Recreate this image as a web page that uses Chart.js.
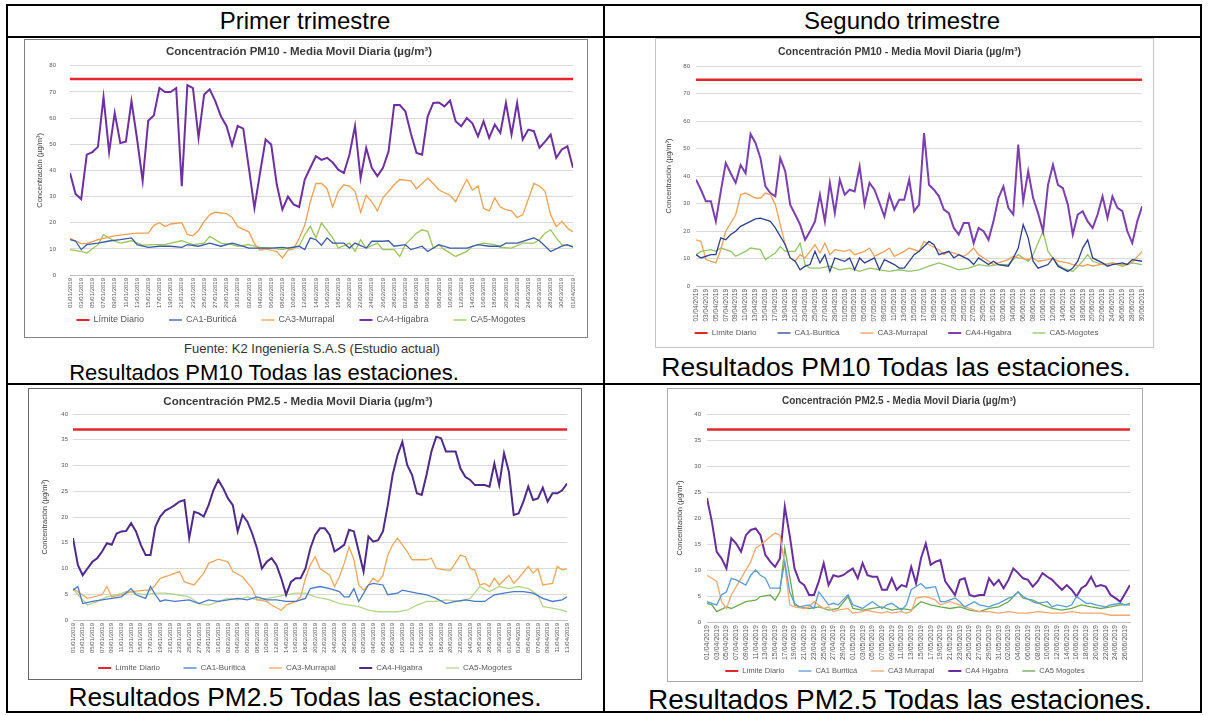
<!DOCTYPE html>
<html lang="es">
<head>
<meta charset="UTF-8">
<title>Resultados PM10 y PM2.5 - Todas las estaciones</title>
<script src="https://cdn.jsdelivr.net/npm/chart.js"></script>
<style>
  body { margin: 0; background: #fff; font-family: "Liberation Sans", Arial, sans-serif; }
  #page { position: relative; width: 1208px; height: 715px; overflow: hidden; }
  .rule { position: absolute; background: #000; }
  .frame { position: absolute; border: 2px solid #000; box-sizing: border-box; }
  .txt { position: absolute; white-space: nowrap; color: #000; transform: translate(-50%, -50%); line-height: 1; }
  .box { position: absolute; background: #fff; border: 1px solid #999; box-sizing: border-box; }
  .box canvas { position: absolute; left: 0; top: 0; }
</style>
</head>
<body>
<div id="page">
  <div class="frame" style="left:6px;top:4px;width:1196px;height:709px"></div>
  <div class="rule" style="left:603px;top:4px;width:2px;height:709px"></div>
  <div class="rule" style="left:6px;top:36px;width:1196px;height:2px"></div>
  <div class="rule" style="left:6px;top:383px;width:1196px;height:2px"></div>

  <div class="txt" style="left:305px;top:21px;font-size:24px">Primer trimestre</div>
  <div class="txt" style="left:902px;top:21px;font-size:24px">Segundo trimestre</div>

  <div class="box" id="c1" style="left:24px;top:39px;width:564px;height:299px;border-color:#808080"><canvas></canvas></div>
  <div class="box" id="c2" style="left:655px;top:38px;width:499px;height:310px;border-color:#c4c4c4"><canvas></canvas></div>
  <div class="box" id="c3" style="left:28px;top:388px;width:554px;height:292px;border-color:#666"><canvas></canvas></div>
  <div class="box" id="c4" style="left:667px;top:388px;width:476px;height:294px;border-color:#aaa"><canvas></canvas></div>

  <div class="txt" style="left:312px;top:348px;font-size:13px;color:#333">Fuente: K2 Ingeniería S.A.S (Estudio actual)</div>
  <div class="txt" style="left:264px;top:373px;font-size:22px">Resultados PM10 Todas las estaciones.</div>
  <div class="txt" style="left:896px;top:367px;font-size:26.5px">Resultados PM10 Todas las estaciones.</div>
  <div class="txt" style="left:305px;top:697px;font-size:26.3px">Resultados PM2.5 Todas las estaciones.</div>
  <div class="txt" style="left:900px;top:700px;font-size:28px">Resultados PM2.5 Todas las estaciones.</div>
</div>

<script>
// etiquetas del eje x (una cada dos dias)
const q1Dates = ['01/01/2019','03/01/2019','05/01/2019','07/01/2019','09/01/2019','11/01/2019','13/01/2019','15/01/2019','17/01/2019','19/01/2019','21/01/2019','23/01/2019','25/01/2019','27/01/2019','29/01/2019','31/01/2019',
  '02/02/2019','04/02/2019','06/02/2019','08/02/2019','10/02/2019','12/02/2019','14/02/2019','16/02/2019','18/02/2019','20/02/2019','22/02/2019','24/02/2019','26/02/2019','28/02/2019',
  '02/03/2019','04/03/2019','06/03/2019','08/03/2019','10/03/2019','12/03/2019','14/03/2019','16/03/2019','18/03/2019','20/03/2019','22/03/2019','24/03/2019','26/03/2019','28/03/2019','30/03/2019',
  '01/04/2019','03/04/2019','05/04/2019','07/04/2019','09/04/2019','11/04/2019','13/04/2019'];
const q2Dates = ['01/04/2019','03/04/2019','05/04/2019','07/04/2019','09/04/2019','11/04/2019','13/04/2019','15/04/2019','17/04/2019','19/04/2019','21/04/2019','23/04/2019','25/04/2019','27/04/2019','29/04/2019',
  '01/05/2019','03/05/2019','05/05/2019','07/05/2019','09/05/2019','11/05/2019','13/05/2019','15/05/2019','17/05/2019','19/05/2019','21/05/2019','23/05/2019','25/05/2019','27/05/2019','29/05/2019','31/05/2019',
  '02/06/2019','04/06/2019','06/06/2019','08/06/2019','10/06/2019','12/06/2019','14/06/2019','16/06/2019','18/06/2019','20/06/2019','22/06/2019','24/06/2019','26/06/2019','28/06/2019','30/06/2019'];

const stationsDash = ['Límite Diario', 'CA1-Buriticá', 'CA3-Murrapal', 'CA4-Higabra', 'CA5-Mogotes'];
const stationsSpace = ['Límite Diario', 'CA1 Buriticá', 'CA3 Murrapal', 'CA4 Higabra', 'CA5 Mogotes'];

const limitPm10 = 75;
const limitPm25 = 37;

// PM10 - primer trimestre (Higabra: un valor por dia; resto: [dia, valor])
const pm10Q1Higabra = [39,31,29,46,47,49,68,47,62,50.5,51,66.5,52,36,59,61,71.5,70,70,71.5,
  34,72.6,71.5,52.5,69,71,66.5,60.7,57,49.6,57,56,41,25.6,39,51.8,49.9,34.6,25,30,
  27,26,36.5,41,45.4,44,44.8,43,40.3,39,46,57,37,48.6,41,37.8,41,47.3,65,65,
  62.6,54,46.7,46,60.7,65.8,66,64.5,66.7,58.8,56.9,60,58,53,58.8,52.4,57.5,54.3,65.8,53.7,
  65.8,51.8,55.6,55,48.6,51,53.7,44.8,48,49.2,41];
const pm10Q1Buritica = [[0,13.5],[1,13],[2,9.7],[3,11.6],[5,12.2],[7,13],[9,13.5],[11,14.2],[12,11.6],[14,10.6],[16,11],[18,11],[20,10.6],[21,11.6],[23,11],[25,12.2],[27,11],[29,12.2],[30,11.6],[32,10.3],[34,10.3],[36,10.3],[38,10.6],[39,10.3],[41,11],[42,9.7],[43,14.2],[44,13.5],[45,11.4],[46,14.2],[47,12.2],[49,12.2],[50,10.3],[51,12.2],[53,10.3],[54,12.9],[56,12.9],[57,13.1],[58,11],[60,11.6],[61,9.7],[63,11],[64,9],[66,11.6],[68,10.3],[69,10.3],[71,10.3],[73,11.6],[75,11],[77,11],[78,12.2],[80,12.2],[82,13.5],[83,14.2],[84,13.1],[86,9],[88,11],[89,11.6],[90,10.6]];
const pm10Q1Murrapal = [[0,14],[2,12],[3,12],[5,13.5],[8,15],[10,15.5],[12,16],[14,16],[15,19],[16,20],[17,18.5],[18,19.5],[20,20],[21,15.5],[22,15],[23,17],[24,20.5],[25,23],[26,24],[28,23.5],[29,22],[30,18.5],[32,16.5],[33,12],[34,9.5],[35,10],[37,9],[38,6.5],[39,9.5],[40,10],[41,14],[42,19],[43,28],[44,35],[45,35],[46,33],[47,26],[48,32],[49,34.5],[50,34],[51,32],[52,24],[53,30.5],[54,28],[55,24.5],[56,29.5],[58,34.5],[59,36.5],[61,36],[62,33],[64,37],[65,35],[66,32.5],[68,30.5],[69,28],[70,32.5],[71,36.5],[72,32.5],[73,34],[74,25.5],[75,24.5],[76,29.5],[77,26],[78,25],[79,24.5],[80,22],[81,23],[83,35],[84,34],[85,32],[86,23],[87,18.5],[88,20.5],[89,18],[90,16.5]];
const pm10Q1Mogotes = [[0,9.7],[2,9],[3,8.4],[5,11.6],[6,15.4],[8,12.9],[9,12.2],[11,13.1],[13,11.4],[15,11.6],[17,11.6],[18,12.2],[20,13.1],[22,11.6],[24,12.2],[25,14.8],[27,12.2],[29,11.6],[30,11],[32,11.6],[34,10.6],[36,10.3],[38,9.7],[39,10.3],[41,11],[42,15.4],[43,18.6],[44,14.2],[45,19.9],[47,14.2],[48,10.3],[50,12.2],[51,9],[52,13.5],[53,10.3],[55,12.2],[56,9.7],[58,9.7],[59,7.1],[60,11.6],[62,16],[63,17.3],[64,16.7],[65,10.3],[66,11.6],[67,9.7],[69,7.1],[71,9],[72,11],[74,12.2],[76,11.6],[77,10.6],[79,10.3],[81,12.2],[83,12.2],[84,13.5],[85,16],[86,17.3],[87,14.2],[88,11.6],[90,11]];

// PM10 - segundo trimestre
const pm10Q2Higabra = [38.7,35,30.8,30.8,23.5,34.4,44.7,41,37.5,44,
  41,55.3,52,46.5,36.2,33.8,32.6,46.5,41.7,29.6,
  26,22.3,16.8,19.9,23.5,33.2,23.5,37.5,26.5,38.7,
  33.2,35,34.4,43.5,29.6,37.5,35,30.2,25.3,33.2,
  27.8,31.4,31.4,38.7,27.2,29.6,55.6,36.8,35,32.6,
  27.8,26.5,21.1,18.7,22.9,22.9,15.6,21.1,19.9,16.8,
  23.5,32,36.2,28.4,26,51.4,30.8,41.7,32,26.5,
  19.9,36.8,44.1,36.8,35.6,29.6,18.7,26,27.2,23.5,
  21.1,26,32.6,24.7,32.6,28.4,27.2,19.9,15.6,23.5,29];
const pm10Q2Buritica = [[0,11.4],[1,10.2],[3,11.4],[4,11.4],[5,17.5],[6,16.8],[7,18.7],[8,19.9],[9,21.7],[11,23.5],[12,24.4],[13,24.7],[15,23.5],[16,21.1],[18,15],[19,10.2],[20,9],[21,5.9],[22,7.2],[23,7.8],[24,12.6],[25,8.4],[26,11.4],[27,5.3],[28,10.2],[30,9],[31,10.2],[32,5.9],[33,10.2],[34,8.4],[36,10.2],[37,5.9],[38,9.6],[40,7.8],[41,6.5],[42,6.5],[44,11.4],[45,12.6],[47,16.2],[48,15],[49,11.4],[51,12.6],[52,10.2],[53,11.4],[55,9.6],[56,7.8],[57,10.2],[59,7.8],[60,9],[61,7.8],[63,7.2],[64,10.2],[65,13.8],[66,22.3],[67,17.5],[68,9],[69,6.5],[71,7.8],[72,10.2],[73,7.2],[75,5.3],[76,6.5],[77,9],[78,13.8],[79,16.8],[80,10.2],[82,8.4],[83,7.2],[84,7.8],[86,8.4],[87,7.8],[88,9.6],[90,9]];
const pm10Q2Murrapal = [[0,16.8],[1,16.2],[2,9.6],[4,8.4],[5,13.2],[6,19.9],[8,25.9],[9,33.2],[10,33.8],[12,32],[13,32],[14,33.8],[15,33.2],[16,29.6],[17,22.3],[18,15],[19,10.2],[20,9],[21,11.4],[22,10.2],[23,12.6],[24,15],[25,12],[26,15.6],[27,11.4],[28,13.2],[30,12.6],[31,13.2],[32,11.4],[34,12.6],[35,13.8],[36,10.8],[38,12.6],[39,13.8],[40,10.8],[42,12.6],[43,13.8],[45,12.6],[46,16.2],[47,15],[49,13.2],[50,11.4],[51,12.6],[53,11.4],[54,10.8],[55,12],[56,13.8],[57,11.4],[59,9],[60,7.8],[61,8.4],[63,9.6],[64,10.8],[65,10.2],[67,9.6],[68,10.2],[69,9],[71,9.6],[72,10.2],[73,9],[75,8.4],[76,7.8],[78,7.2],[79,7.8],[80,7.2],[82,8],[83,7.8],[84,8.4],[86,7.8],[87,8],[88,8.7],[90,12.6]];
const pm10Q2Mogotes = [[0,11.4],[1,12.6],[3,13.2],[4,12.6],[5,13.8],[7,12.6],[8,10.8],[10,12.6],[11,13.8],[13,13.2],[14,9.6],[16,12],[17,14.4],[18,12.6],[20,12.6],[21,15.6],[22,7.8],[23,6.5],[25,6.5],[27,7.2],[29,5.9],[31,6.5],[33,5.3],[35,6.5],[37,5.9],[39,5.3],[41,5.9],[43,5.3],[45,5.9],[47,7.2],[49,8.4],[51,7.2],[53,5.9],[55,6.5],[57,7.8],[59,7.2],[61,7.8],[63,7.8],[65,11.4],[67,9],[68,11.4],[70,19.9],[71,12.6],[73,7.8],[74,6.5],[76,5.3],[78,9],[79,11.4],[80,9],[82,7.8],[84,8.4],[86,7.2],[88,8.4],[90,7.8]];

// PM2.5 - primer trimestre
const pm25Q1Higabra = [15.9,10.7,8.7,10,11.3,12,13.3,14.9,14.6,16.8,
  17.2,17.3,18.8,17.2,14.6,12.6,12.6,18.1,20.1,21.2,
  21.7,22.3,23,23.3,15.9,21,20.7,20.1,22.3,25.2,
  27.2,25.6,23.6,22.3,17.2,20.4,19.1,16.8,13.9,10,
  11.3,12,10.7,8.1,4.9,7.4,8.1,8.1,10,13.9,
  16.5,17.8,17.8,16.5,13.3,13.9,14.6,17.5,17.2,13.3,
  9.4,16.2,15.2,15.5,17.2,22.3,28.2,32,34.6,30.1,
  28.2,24.6,24.3,28.2,32.7,35.6,35.3,32.7,32.7,32.7,
  29.4,27.8,27.2,26.2,26.2,26.2,25.9,30.4,26.2,32.4,
  28.8,20.4,20.7,23,25.9,23.3,23.6,25.7,23,24.6,
  24.6,25.2,26.5];
const pm25Q1Buritica = [[0,5.8],[1,6.5],[2,3.2],[4,3.6],[6,3.9],[8,4.2],[10,4.5],[12,6.1],[13,4.9],[15,4.2],[16,6.5],[17,4.9],[18,3.6],[19,3.9],[21,3.6],[24,3.9],[26,3.2],[28,3.9],[30,3.6],[32,3.9],[34,4.2],[36,3.9],[38,4.5],[40,3.9],[42,3.9],[44,3.6],[46,3.6],[48,4.2],[49,6.1],[51,6.5],[53,6.1],[55,5.5],[56,4.5],[57,4.5],[58,6.1],[59,3.6],[61,6.8],[62,7.1],[64,6.8],[65,4.9],[67,5.2],[68,5.8],[71,5.2],[73,4.9],[75,4.2],[77,3.2],[79,3.6],[81,3.9],[83,3.6],[85,3.6],[87,4.9],[89,5.2],[91,5.5],[93,5.5],[95,5.2],[97,4.2],[99,3.6],[101,3.9],[102,4.5]];
const pm25Q1Murrapal = [[0,6.1],[1,5.5],[3,4.2],[6,4.9],[7,6.5],[8,4.5],[10,4.9],[12,5.5],[15,5.8],[16,5.8],[17,6.8],[18,8.1],[20,8.7],[22,9.4],[23,7.4],[25,6.8],[27,9.1],[28,11],[30,11.8],[32,11.3],[33,9.4],[35,8.4],[37,6.1],[38,3.9],[40,3.6],[41,2.9],[43,1.9],[44,2.9],[46,3.6],[47,4.5],[48,8.1],[49,10.7],[50,12.3],[51,10],[53,8.7],[54,6.5],[55,8.4],[56,11],[57,14.2],[58,11.7],[59,6.8],[60,5.8],[61,6.8],[62,8.1],[63,7.4],[64,8.7],[65,12.6],[66,14.6],[67,15.9],[68,14.6],[69,13.3],[70,11.7],[72,11.7],[73,11.7],[74,12],[75,10],[77,9.7],[78,9.7],[80,12.6],[81,12.3],[82,10],[83,9.7],[84,6.8],[85,7.1],[86,6.5],[87,8.1],[88,6.8],[90,8.7],[91,7.1],[92,8.1],[94,10.4],[95,9.1],[96,10],[97,6.8],[99,7.1],[100,10.4],[101,9.7],[102,10]];
const pm25Q1Mogotes = [[0,6.1],[1,4.9],[3,2.9],[5,3.6],[7,4.5],[9,4.9],[11,5.5],[13,5.2],[15,4.9],[17,5.2],[19,5.2],[21,5],[24,4.5],[26,3.2],[28,2.9],[30,3.6],[32,4.2],[34,3.9],[36,4.5],[38,3.9],[40,4.2],[42,4.5],[44,4.9],[46,5.2],[48,5.2],[50,4.5],[53,3.9],[55,3.2],[57,2.9],[59,2.6],[61,1.9],[63,1.6],[65,1.6],[67,1.6],[69,1.9],[71,2.9],[73,3.6],[75,3.6],[77,3.9],[80,3.6],[82,4.2],[84,6.5],[86,5.5],[88,6.5],[90,6.1],[92,6.5],[94,6.1],[96,4.9],[97,2.6],[99,2.3],[101,1.9],[102,1.6]];

// PM2.5 - segundo trimestre
const pm25Q2Higabra = [23.8,19.3,13.5,12.2,10.3,16.1,15.1,13.5,16.7,17.7,
  18,16.7,12.9,11.6,10.6,12.2,22.2,16.7,10.3,7.8,
  7.1,5.2,5.2,7.8,11.3,7.1,9,8.7,9,9.7,
  10.3,8.4,11.3,9,8.7,8.7,6.2,6.2,8.4,6.2,
  7.1,6.8,10.6,7.4,12.2,15.1,11,11.6,11.9,7.8,
  6.5,5.2,8.1,8.4,5.2,4.9,5.2,5.2,8.4,7.1,
  8.1,6.5,8.1,10.3,9.4,8.4,8.1,6.8,7.8,9.4,
  8.7,8.1,7.1,6.2,7.1,6.2,4.9,6.5,7.1,8.7,
  6.8,7.1,6.8,5.2,4.6,3.9,5.5,7.1];
const pm25Q2Buritica = [[0,3.9],[1,3.6],[2,3.3],[3,5.2],[4,5.8],[5,8.4],[6,8.1],[8,7.1],[9,9],[10,10],[11,9],[12,8.4],[13,6.5],[15,6.5],[16,11.6],[17,5.8],[18,3.6],[19,2.9],[21,3.3],[22,2.6],[23,5.8],[25,3.3],[26,3.6],[27,3.3],[29,5.2],[30,3.3],[32,2.6],[33,3.3],[34,3.9],[36,2.6],[37,3.3],[38,3.6],[40,2.3],[41,3.3],[42,6.2],[44,7.4],[45,6.5],[47,6.8],[48,3.9],[49,3.9],[51,4.6],[52,3.9],[53,2.9],[55,3.9],[56,3.3],[58,2.9],[59,3.3],[60,3.6],[62,4.6],[63,4.9],[64,5.8],[65,4.9],[67,3.9],[68,3.6],[70,3.9],[71,2.9],[72,3.3],[74,2.9],[75,3.3],[76,4.9],[78,3.6],[79,3.6],[80,3.3],[82,2.9],[83,3.3],[85,3.6],[86,3.3],[87,3.6]];
const pm25Q2Murrapal = [[0,9],[1,8.4],[2,7.8],[3,3.9],[4,2.6],[5,5.2],[7,8.4],[9,11.6],[10,14.2],[11,14.8],[13,16.4],[14,17.1],[15,16.7],[16,11],[17,3.3],[18,2.9],[20,2.6],[21,2.9],[22,3.9],[24,2.6],[25,2.9],[26,2],[27,2.3],[29,2.6],[30,1.7],[32,2],[33,2.3],[34,2],[36,1.7],[37,2],[38,1.7],[40,2],[41,1.7],[42,2],[43,4.6],[45,4.9],[46,4.6],[47,4.2],[48,3.3],[50,3.9],[51,3.6],[52,3.3],[54,2.6],[55,2.3],[56,2],[58,2],[60,1.7],[62,2],[64,1.7],[66,1.7],[68,2],[71,1.7],[73,1.7],[75,2],[77,1.7],[79,1.7],[81,1.7],[83,1.3],[85,1.3],[87,1.3]];
const pm25Q2Mogotes = [[0,3.6],[1,3.3],[2,2],[4,2.9],[5,2.6],[8,3.9],[10,4.2],[11,4.9],[13,5.2],[14,4.2],[15,5.8],[16,14.2],[18,3.3],[19,2.9],[21,2.6],[23,2.9],[25,2.3],[27,2.6],[29,4.9],[30,2.6],[32,2.3],[34,2.6],[36,2.9],[38,2.3],[40,2.6],[42,2.3],[44,3.9],[46,3.3],[48,2.9],[50,2.6],[52,2.9],[54,2.3],[56,2],[58,2.6],[60,2.9],[62,3.9],[64,5.8],[65,4.6],[67,4.2],[69,3.3],[71,2.6],[73,2.3],[75,2.6],[77,3.3],[79,2.9],[81,2.6],[83,2.9],[85,3.3],[87,3.3]];

Chart.defaults.font.family = '"Liberation Sans", Arial, sans-serif';

const byDay = arr => arr.map((v, i) => ({ x: i, y: v }));
const byPair = arr => arr.map(([x, y]) => ({ x, y }));

// leyenda estilo Excel (linea corta + texto, espaciado amplio) pegada al borde inferior
const excelLegend = {
  id: 'excelLegend',
  afterDraw(chart, args, opts) {
    const { ctx } = chart;
    const sets = chart.data.datasets;
    ctx.save();
    ctx.font = opts.size + 'px "Liberation Sans", Arial, sans-serif';
    ctx.textBaseline = 'middle';
    const widths = sets.map(d => opts.line + 4 + ctx.measureText(d.label).width);
    const total = widths.reduce((a, b) => a + b, 0) + opts.gap * (sets.length - 1);
    let x = (chart.width - total) / 2 + opts.shift;
    sets.forEach((d, i) => {
      ctx.strokeStyle = d.borderColor;
      ctx.lineWidth = Math.min(d.borderWidth, 2);
      ctx.beginPath();
      ctx.moveTo(x, opts.y);
      ctx.lineTo(x + opts.line, opts.y);
      ctx.stroke();
      ctx.fillStyle = '#595959';
      ctx.fillText(d.label, x + opts.line + 4, opts.y);
      x += widths[i] + opts.gap;
    });
    ctx.restore();
  }
};

function drawChart(id, c) {
  const box = document.getElementById(id);
  const canvas = box.querySelector('canvas');
  canvas.width = box.clientWidth;
  canvas.height = box.clientHeight;
  const days = c.higabra.length - 1;

  const line = (label, data, color, width) => ({
    label, data, borderColor: color, backgroundColor: color,
    borderWidth: width, pointRadius: 0, tension: 0, fill: false
  });

  new Chart(canvas, {
    type: 'line',
    data: {
      datasets: [
        line(c.names[0], [{ x: 0, y: c.limit }, { x: days, y: c.limit }], '#e2262c', 2.5),
        line(c.names[1], byPair(c.buritica), c.colors[0], 1.3),
        line(c.names[2], byPair(c.murrapal), c.colors[1], 1.3),
        line(c.names[3], byDay(c.higabra), c.colors[2], 2),
        line(c.names[4], byPair(c.mogotes), c.colors[3], 1.3)
      ]
    },
    options: {
      responsive: false,
      animation: false,
      layout: { padding: { left: 0, right: c.right, top: 0, bottom: 0 } },
      plugins: {
        title: {
          display: true, text: c.title, color: '#3a3a3a',
          font: { size: c.titleSize, weight: 'bold' },
          padding: { top: c.titlePad[0], bottom: c.titlePad[1] }
        },
        legend: { display: false },
        tooltip: { enabled: false },
        excelLegend: c.legend
      },
      scales: {
        x: {
          type: 'linear', min: 0, max: days,
          grid: { display: false, drawTicks: false },
          border: { color: '#bfbfbf' },
          ticks: {
            stepSize: 2, autoSkip: false, includeBounds: false,
            maxRotation: 90, minRotation: 90, padding: 3,
            font: { size: c.xFont }, color: '#595959',
            callback: v => c.dates[v / 2] ?? ''
          },
          afterFit: s => { s.height = c.xHeight; }
        },
        y: {
          min: 0, max: c.yMax,
          grid: { color: '#d9d9d9', drawTicks: false },
          border: { display: false },
          ticks: { stepSize: c.yStep, padding: c.yPad, font: { size: 6 }, color: '#595959' },
          title: {
            display: true, text: 'Concentración (µg/m³)', color: '#404040',
            font: { size: 7.5 }, padding: { top: c.yTitlePad, bottom: 0 }
          },
          afterFit: s => { s.width = c.yWidth; }
        }
      }
    },
    plugins: [excelLegend]
  });
}

drawChart('c1', {
  title: 'Concentración PM10 - Media Movil Diaria (µg/m³)', titleSize: 11.5, titlePad: [5, 7],
  names: stationsDash, limit: limitPm10, yMax: 80, yStep: 10, dates: q1Dates,
  higabra: pm10Q1Higabra, buritica: pm10Q1Buritica, murrapal: pm10Q1Murrapal, mogotes: pm10Q1Mogotes,
  colors: ['#3a5aa6', '#f0a050', '#6e2fa0', '#9bc45a'],
  yWidth: 45, yPad: 14, yTitlePad: 10.5, right: 14, xHeight: 62, xFont: 6,
  legend: { y: 280, size: 9, gap: 25, line: 13, shift: -5 }
});
drawChart('c2', {
  title: 'Concentración PM10 - Media Movil Diaria (µg/m³)', titleSize: 10.5, titlePad: [6.7, 7.7],
  names: stationsDash, limit: limitPm10, yMax: 80, yStep: 10, dates: q2Dates,
  higabra: pm10Q2Higabra, buritica: pm10Q2Buritica, murrapal: pm10Q2Murrapal, mogotes: pm10Q2Mogotes,
  colors: ['#2c3f8f', '#f2a05a', '#7b3fb0', '#92c46a'],
  yWidth: 40, yPad: 6, yTitlePad: 8.5, right: 10, xHeight: 61, xFont: 6.5,
  legend: { y: 294, size: 8, gap: 21, line: 13, shift: -8 }
});
drawChart('c3', {
  title: 'Concentración PM2.5 - Media Movil Diaria (µg/m³)', titleSize: 11.5, titlePad: [6.1, 5.1],
  names: stationsDash, limit: limitPm25, yMax: 40, yStep: 5, dates: q1Dates,
  higabra: pm25Q1Higabra, buritica: pm25Q1Buritica, murrapal: pm25Q1Murrapal, mogotes: pm25Q1Mogotes,
  colors: ['#4a78c8', '#f2a65a', '#4e2a8a', '#b5d68f'],
  yWidth: 44, yPad: 5, yTitlePad: 11.5, right: 14, xHeight: 59, xFont: 6,
  legend: { y: 279, size: 8, gap: 23.5, line: 13, shift: 0 }
});
drawChart('c4', {
  title: 'Concentración PM2.5 - Media Movil Diaria (µg/m³)', titleSize: 10, titlePad: [6, 7],
  names: stationsSpace, limit: limitPm25, yMax: 40, yStep: 5, dates: q2Dates,
  higabra: pm25Q2Higabra, buritica: pm25Q2Buritica, murrapal: pm25Q2Murrapal, mogotes: pm25Q2Mogotes,
  colors: ['#5b9bd5', '#f4a870', '#6a2e9c', '#6aa84f'],
  yWidth: 39, yPad: 6, yTitlePad: 7.5, right: 12, xHeight: 59, xFont: 7,
  legend: { y: 282, size: 7.5, gap: 14, line: 13, shift: 0 }
});
</script>
</body>
</html>
